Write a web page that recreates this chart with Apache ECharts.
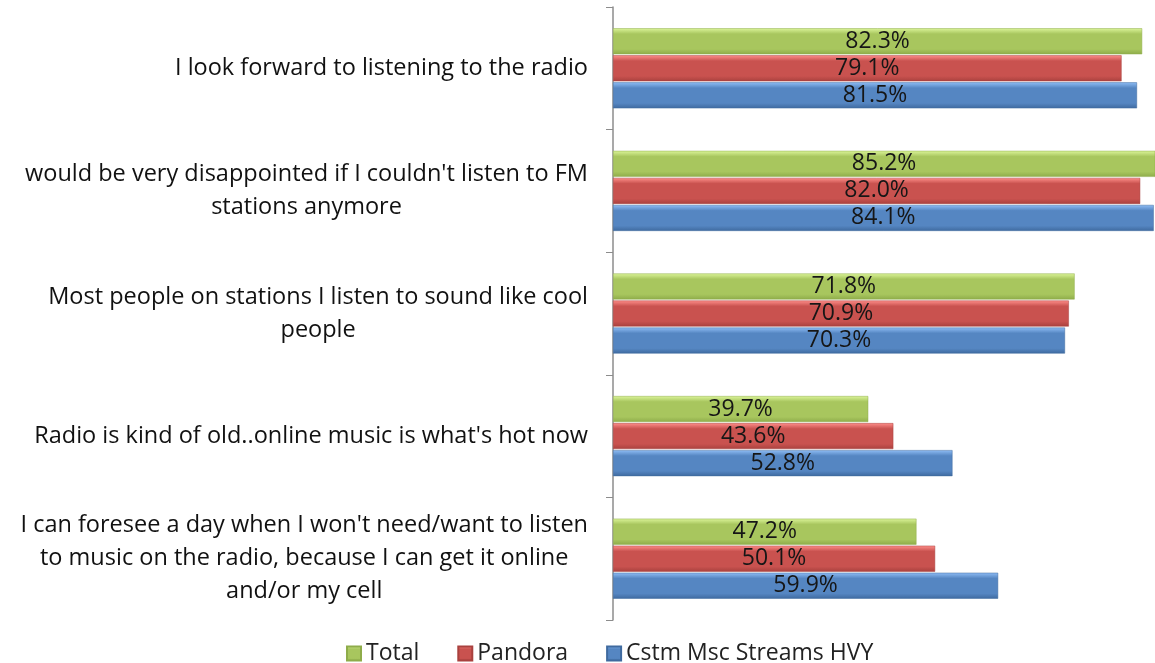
<!DOCTYPE html>
<html>
<head>
<meta charset="utf-8">
<script src="https://cdn.jsdelivr.net/npm/echarts@6/dist/echarts.min.js"></script>
<style>
  html, body { margin: 0; padding: 0; background: #fff; }
  #chart { width: 1155px; height: 663px; }
</style>
</head>
<body>
<div id="chart"></div>
<script>
const categories = [
  "I look forward to listening to the radio",
  "would be very disappointed if I couldn't listen to FM\nstations anymore",
  "Most people on stations I listen to sound like cool\npeople",
  "Radio is kind of old..online music is what's hot now",
  "I can foresee a day when I won't need/want to listen\nto music on the radio, because I can get it online\nand/or my cell"
];
const seriesNames = ['Total', 'Pandora', 'Cstm Msc Streams HVY'];
const totalValues = [82.3, 85.2, 71.8, 39.7, 47.2];
const pandoraValues = [79.1, 82.0, 70.9, 43.6, 50.1];
const streamsValues = [81.5, 84.1, 70.3, 52.8, 59.9];

const palette = [
  ['#dcf59a', '#a8c65e', '#8eac4a'],
  ['#ff8f8b', '#c9524f', '#a9413e'],
  ['#8fbdf5', '#5586c2', '#3f6a9f']
];

function bevel(c) {
  return new echarts.graphic.LinearGradient(0, 0, 0, 1, [
    { offset: 0, color: c[0] },
    { offset: 0.22, color: c[1] },
    { offset: 0.8, color: c[1] },
    { offset: 1, color: c[2] }
  ]);
}

const font = '"Open Sans", sans-serif';

function makeSeries(name, values, idx) {
  return {
    name: name,
    type: 'bar',
    data: values,
    barWidth: 26,
    barGap: '4%',
    itemStyle: { color: bevel(palette[idx]), borderColor: palette[idx][2], borderWidth: 0.5 },
    label: {
      show: true,
      position: 'inside',
      formatter: p => p.value.toFixed(1) + '%',
      color: '#161616',
      fontSize: 23,
      fontFamily: font
    }
  };
}

const chart = echarts.init(document.getElementById('chart'));
chart.setOption({
  animation: false,
  textStyle: { fontFamily: font },
  grid: { left: 613, right: 0, top: 7, bottom: 43, containLabel: false },
  legend: {
    bottom: -7,
    left: 341,
    itemWidth: 14,
    itemHeight: 14,
    itemGap: 38,
    icon: 'rect',
    textStyle: { fontSize: 23, color: '#222', fontFamily: font },
    data: seriesNames
  },
  xAxis: {
    type: 'value',
    min: 0,
    max: 84.3,
    show: false,
    splitLine: { show: false }
  },
  yAxis: {
    type: 'category',
    inverse: true,
    data: categories,
    axisLine: { lineStyle: { color: '#8c8c8c', width: 1.5 } },
    axisTick: { show: true, length: 7, lineStyle: { color: '#8c8c8c' } },
    axisLabel: {
      margin: 25,
      formatter: v => '{c|' + v.split('\n').join('}\n{c|') + '}',
      rich: {
        c: { align: 'center', fontSize: 23.5, lineHeight: 33, color: '#111', fontFamily: font }
      }
    }
  },
  series: [
    makeSeries(seriesNames[0], totalValues, 0),
    makeSeries(seriesNames[1], pandoraValues, 1),
    makeSeries(seriesNames[2], streamsValues, 2)
  ]
});
</script>
</body>
</html>
